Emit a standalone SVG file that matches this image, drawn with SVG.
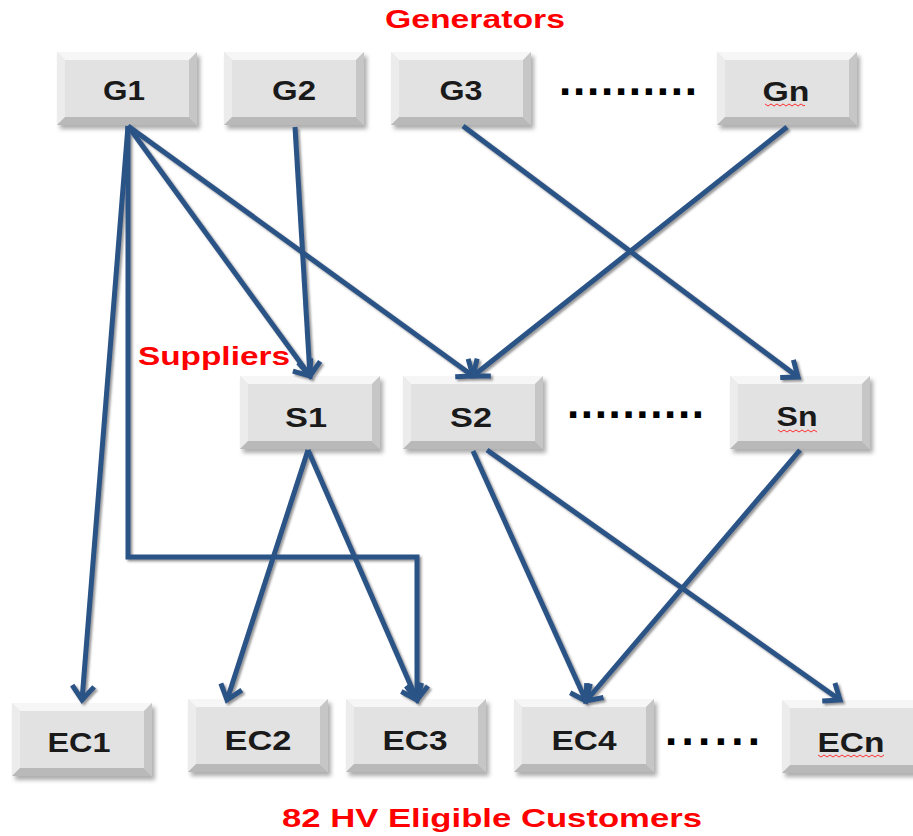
<svg xmlns="http://www.w3.org/2000/svg" xmlns:xlink="http://www.w3.org/1999/xlink" width="913" height="836" viewBox="0 0 913 836">
<style>
.lbl{font-family:"Liberation Sans",Arial,sans-serif;font-weight:bold;font-size:28px;fill:#1a1a1a;text-anchor:middle}
.ttl{font-family:"Liberation Sans",Arial,sans-serif;font-weight:bold;font-size:25px;fill:#ff0000}
.dots{font-family:"Liberation Sans",Arial,sans-serif;font-weight:bold;font-size:44px;fill:#000}
.conn{fill:none;stroke:#2c5286;stroke-width:5;stroke-linejoin:miter;marker-end:url(#arr)}
.sq{fill:none;stroke:#ff3030;stroke-width:1}
</style>
<defs>
<filter id="sh" x="-20%" y="-20%" width="140%" height="140%">
<feDropShadow dx="2" dy="2" stdDeviation="1.2" flood-color="#444" flood-opacity="0.55"/>
</filter>
<filter id="bsh" x="-10%" y="-10%" width="130%" height="140%">
<feGaussianBlur stdDeviation="2"/>
</filter>
<marker id="arr" viewBox="0 0 24 28" refX="19" refY="14" markerWidth="24" markerHeight="28" markerUnits="userSpaceOnUse" orient="auto">
<path d="M5,3 L19,14 L5,25" fill="none" stroke="#2c5286" stroke-width="5"/>
</marker>
<symbol id="box" width="150" height="85" overflow="visible">
<rect x="3" y="4" width="140" height="73" fill="#777" opacity="0.6" filter="url(#bsh)"/>
<rect x="0" y="0" width="140" height="73" fill="#e2e2e2"/>
<polygon points="0,0 140,0 132,8 8,8" fill="#f6f6f6"/>
<polygon points="0,0 8,8 8,65 0,73" fill="#ececec"/>
<polygon points="140,0 140,73 132,65 132,8" fill="#c6c6c6"/>
<polygon points="0,73 140,73 132,65 8,65" fill="#b9b9b9"/>
</symbol>
</defs>
<rect width="913" height="836" fill="#ffffff"/>

<text class="ttl" x="385" y="28" textLength="180" lengthAdjust="spacingAndGlyphs">Generators</text>
<text class="ttl" x="138" y="365" textLength="152" lengthAdjust="spacingAndGlyphs">Suppliers</text>
<text class="ttl" x="282" y="827" font-size="26" style="font-size:26px" textLength="420" lengthAdjust="spacingAndGlyphs">82 HV Eligible Customers</text>

<g id="G1"><use href="#box" x="57" y="52"/><text class="lbl" x="124" y="100" textLength="42" lengthAdjust="spacingAndGlyphs">G1</text></g>
<g id="G2"><use href="#box" x="224" y="52"/><text class="lbl" x="294" y="100" textLength="44" lengthAdjust="spacingAndGlyphs">G2</text></g>
<g id="G3"><use href="#box" x="391" y="52"/><text class="lbl" x="461" y="100" textLength="43" lengthAdjust="spacingAndGlyphs">G3</text></g>
<g id="Gn"><use href="#box" x="717" y="52"/><text class="lbl" x="786" y="101" textLength="47" lengthAdjust="spacingAndGlyphs">Gn</text><path class="sq" d="M765,104 l3,2 l3,-2 l3,2 l3,-2 l3,2 l3,-2 l3,2 l3,-2 l3,2 l3,-2 l3,2 l3,-2 l3,2 l1,-1"/></g>

<g id="S1"><use href="#box" x="240" y="376"/><text class="lbl" x="306" y="427" textLength="42" lengthAdjust="spacingAndGlyphs">S1</text></g>
<g id="S2"><use href="#box" x="403" y="376"/><text class="lbl" x="471" y="427" textLength="42" lengthAdjust="spacingAndGlyphs">S2</text></g>
<g id="Sn"><use href="#box" x="730" y="376"/><text class="lbl" x="797" y="426" textLength="41" lengthAdjust="spacingAndGlyphs">Sn</text><path class="sq" d="M778,430 l3,2 l3,-2 l3,2 l3,-2 l3,2 l3,-2 l3,2 l3,-2 l3,2 l3,-2 l3,2 l3,-2 l3,2"/></g>

<g id="EC1"><use href="#box" x="12" y="703"/><text class="lbl" x="79" y="752" textLength="63" lengthAdjust="spacingAndGlyphs">EC1</text></g>
<g id="EC2"><use href="#box" x="188" y="699"/><text class="lbl" x="258" y="750" textLength="67" lengthAdjust="spacingAndGlyphs">EC2</text></g>
<g id="EC3"><use href="#box" x="346" y="699"/><text class="lbl" x="415" y="750" textLength="65" lengthAdjust="spacingAndGlyphs">EC3</text></g>
<g id="EC4"><use href="#box" x="514" y="699"/><text class="lbl" x="584" y="750" textLength="65" lengthAdjust="spacingAndGlyphs">EC4</text></g>
<g id="ECn"><use href="#box" x="782" y="700"/><text class="lbl" x="851" y="752" textLength="67" lengthAdjust="spacingAndGlyphs">ECn</text><path class="sq" d="M818,755 l3,2 l3,-2 l3,2 l3,-2 l3,2 l3,-2 l3,2 l3,-2 l3,2 l3,-2 l3,2 l3,-2 l3,2 l3,-2 l3,2 l3,-2 l3,2 l3,-2 l3,2 l3,-2 l3,2 l3,-2"/></g>

<text class="dots" x="559" y="95" textLength="138" lengthAdjust="spacing">..........</text>
<text class="dots" x="567" y="418" textLength="137" lengthAdjust="spacing">..........</text>
<text class="dots" x="665" y="745" textLength="95" lengthAdjust="spacing">......</text>

<g id="connectors" filter="url(#sh)">
<path class="conn" d="M128,126 L82,700"/>
<path class="conn" d="M128,126 L128,557 L417,557 L417,700"/>
<path class="conn" d="M128,126 L310,376"/>
<path class="conn" d="M128,126 L473,376"/>
<path class="conn" d="M295,127 L310,376"/>
<path class="conn" d="M463,126 L798,377"/>
<path class="conn" d="M787,127 L473,376"/>
<path class="conn" d="M308,450 L227,700"/>
<path class="conn" d="M308,450 L417,700"/>
<path class="conn" d="M473,451 L586,701"/>
<path class="conn" d="M487,450 L840,700"/>
<path class="conn" d="M800,450 L586,701"/>
</g>
</svg>
